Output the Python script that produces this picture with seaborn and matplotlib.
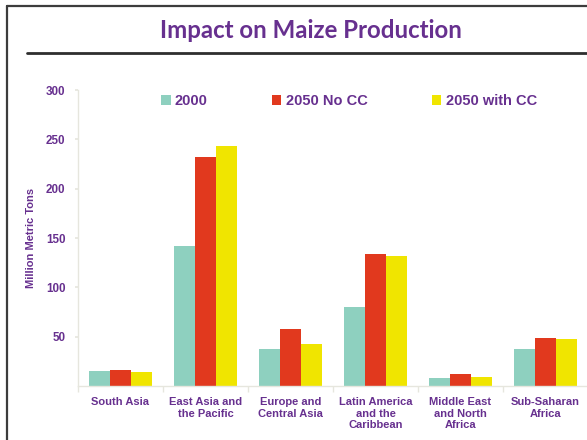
import pandas as pd
import numpy as np
import matplotlib
matplotlib.use("Agg")
import matplotlib.pyplot as plt
from matplotlib.lines import Line2D
from matplotlib.patches import Patch
import seaborn as sns

sns.set_theme(style="white")
plt.rcParams["font.family"] = ["Liberation Sans", "DejaVu Sans"]

PURPLE = "#67308F"
AXIS_GREY = "#E6E6DE"

regions = ["South Asia", "East Asia and\nthe Pacific", "Europe and\nCentral Asia",
           "Latin America\nand the\nCaribbean", "Middle East\nand North\nAfrica",
           "Sub-Saharan\nAfrica"]
scenarios = ["2000", "2050 No CC", "2050 with CC"]
prod_2000 = [15.5, 141.5, 38, 80.5, 8.5, 37]
prod_nocc = [16.5, 232, 57.5, 133.5, 12.5, 49]
prod_cc = [14.5, 243, 43, 131.5, 9.5, 48]
colors = {"2000": "#8ED0BF", "2050 No CC": "#E1391E", "2050 with CC": "#F0E500"}

df = pd.DataFrame({
    "region": regions * 3,
    "scenario": [s for s in scenarios for _ in regions],
    "value": prod_2000 + prod_nocc + prod_cc,
})

fig = plt.figure(figsize=(5.87, 4.4), dpi=100)
ax = fig.add_axes([78 / 587, 1 - 386 / 440, 510 / 587, 296 / 440])

sns.barplot(data=df, x="region", y="value", hue="scenario", order=regions,
            hue_order=scenarios, palette=colors, width=0.75, saturation=1,
            edgecolor="none", linewidth=0, legend=False, ax=ax)

ax.set_xlim(-0.5, 5.5)
ax.set_ylim(0, 300)
yticks = [50, 100, 150, 200, 250, 300]
ax.set_yticks(yticks)
ax.set_yticklabels([str(v) for v in yticks], fontsize=8.4, fontweight="bold", color=PURPLE)
ax.tick_params(axis="y", length=2, color=AXIS_GREY, pad=7, left=True)
ax.set_xticks(range(len(regions)))
ax.set_xticklabels(regions, fontsize=8, fontweight="bold", color=PURPLE, linespacing=1.2)
ax.tick_params(axis="x", length=0, pad=8)
ax.set_xticks(np.arange(-0.5, 6, 1), minor=True)
ax.tick_params(axis="x", which="minor", length=4, color=AXIS_GREY, bottom=True)
ax.set_xlabel("")
ax.set_ylabel("Million Metric Tons", fontsize=8, fontweight="bold", color=PURPLE, labelpad=7)
for side in ["top", "right"]:
    ax.spines[side].set_visible(False)
for side in ["left", "bottom"]:
    ax.spines[side].set_color(AXIS_GREY)
    ax.spines[side].set_linewidth(1)
ax.grid(False)

handles = [Patch(facecolor=colors[s], edgecolor="none") for s in scenarios]
fig.legend(handles, scenarios, loc="center", bbox_to_anchor=(349 / 587, 1 - 101 / 440),
           ncol=3, frameon=False, handlelength=0.65, handleheight=0.65, handletextpad=0.3,
           columnspacing=4.4, prop={"size": 10.5, "weight": "bold"}, labelcolor=PURPLE)

fig.text(311 / 587, 1 - 30 / 440, "Impact on Maize Production", ha="center", va="center",
         fontsize=17.3, fontweight="bold", color=PURPLE, family=["Lato", "DejaVu Sans"])

# slide frame and title rule
fig.add_artist(Line2D([7 / 587, 7 / 587], [0, 1 - 6 / 440], color="#3C3C3C", lw=1.6,
                      transform=fig.transFigure))
fig.add_artist(Line2D([7 / 587, 1], [1 - 6 / 440, 1 - 6 / 440], color="#3C3C3C", lw=1.6,
                      transform=fig.transFigure))
fig.add_artist(Line2D([27 / 587, 1], [1 - 53 / 440, 1 - 53 / 440], color="#2E2E2E", lw=2,
                      transform=fig.transFigure))

fig.savefig("out.png", dpi=100)
plt.close(fig)
